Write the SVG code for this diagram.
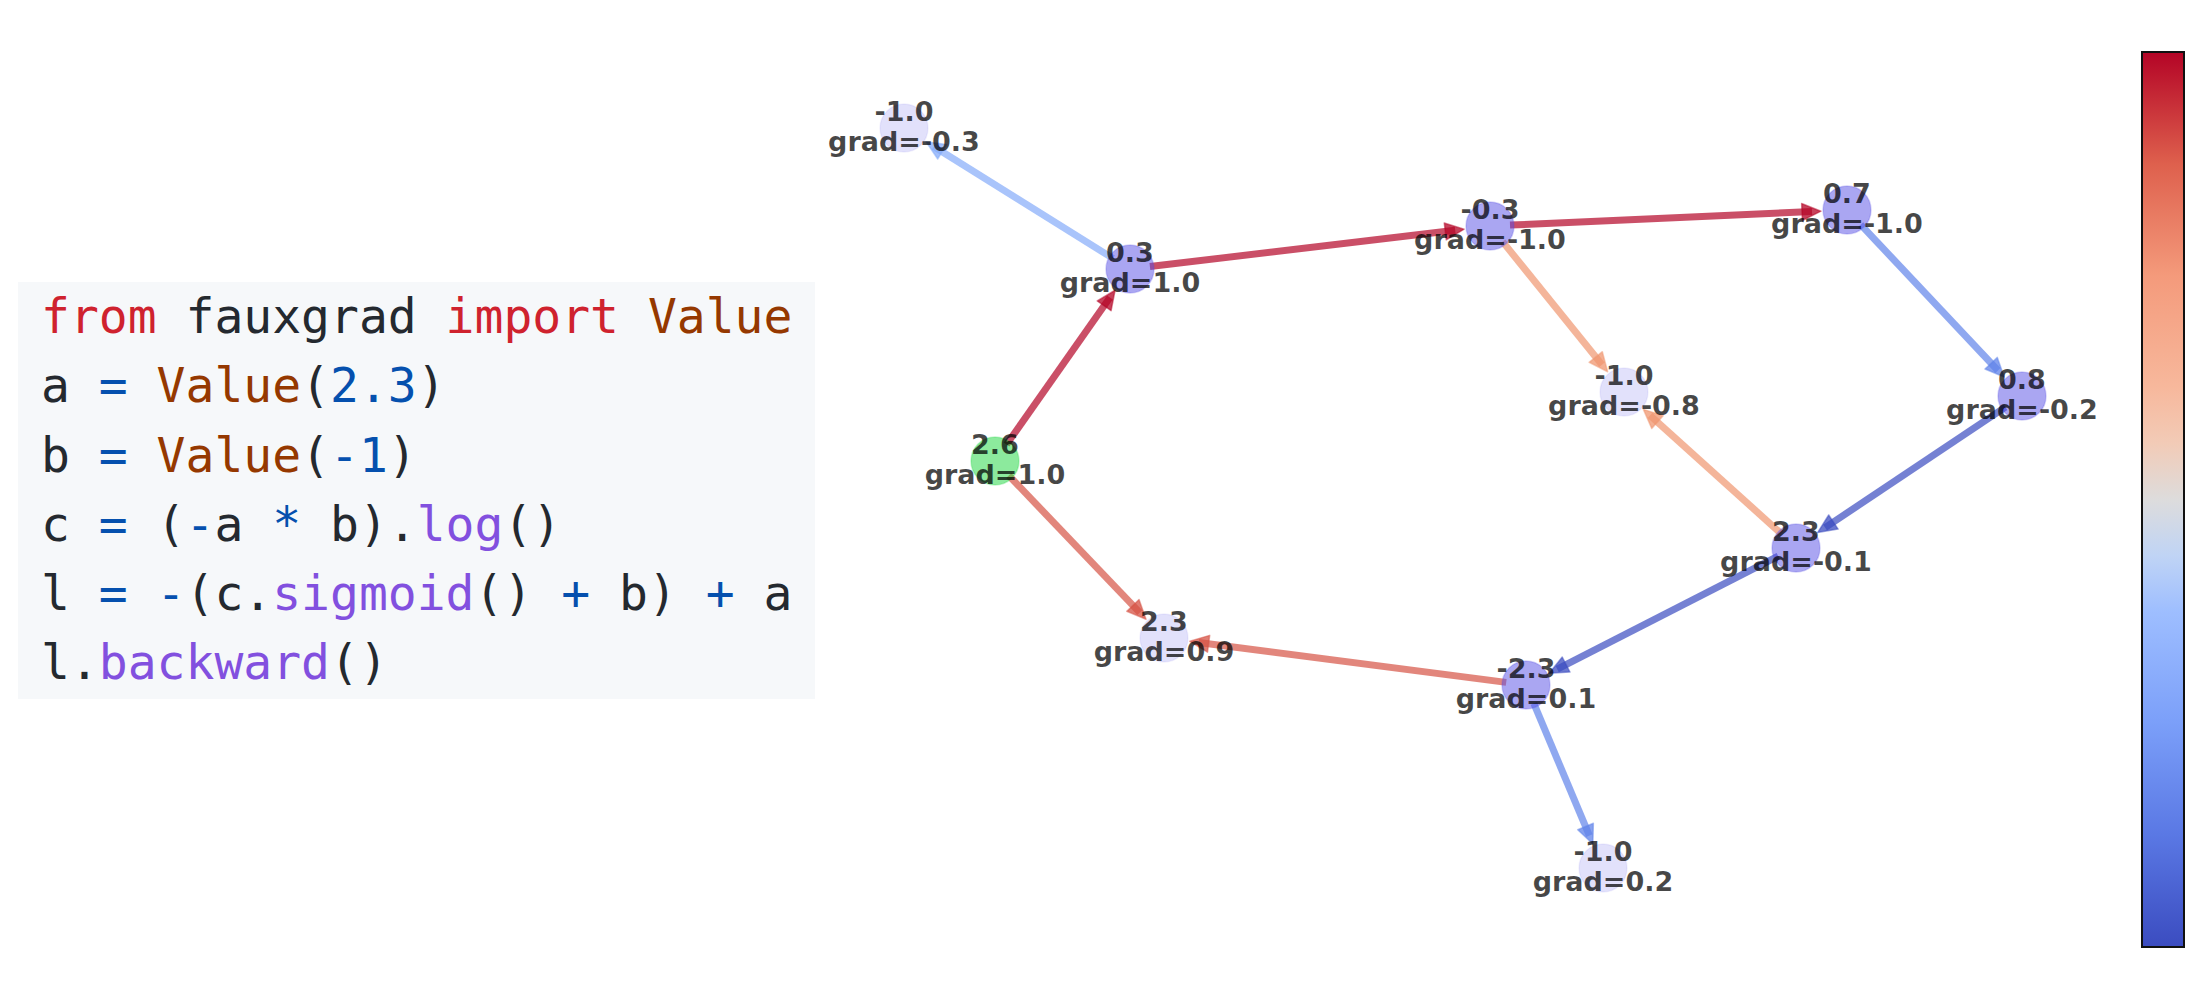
<svg xmlns="http://www.w3.org/2000/svg" width="2206" height="990" viewBox="0 0 2206 990">
<style>
.code{font-family:"DejaVu Sans Mono","Liberation Mono",monospace;font-size:48px;fill:#24292f}
.kw{fill:#cf222e}.cls{fill:#953800}.op{fill:#0550ae}.fn{fill:#8250df}
.lbl{font-family:"DejaVu Sans",sans-serif;font-weight:bold;font-size:27px;fill:#000;fill-opacity:0.72;text-anchor:middle}
.n{fill:#554de5;fill-opacity:0.5;stroke:#554de5;stroke-opacity:0.25;stroke-width:1.5}
.leaf{fill:#554de5;fill-opacity:0.17;stroke:#554de5;stroke-opacity:0.08;stroke-width:1.5}
.root{fill:#19d63c;fill-opacity:0.5;stroke:#19d63c;stroke-opacity:0.25;stroke-width:1.5}
.e{fill:none;stroke-width:7;stroke-opacity:0.7;stroke-linecap:butt}
.red{stroke:#b40426}.sal{stroke:#f0956f}.ora{stroke:#d65244}.lb{stroke:#84abf9}.mb{stroke:#6083ea}.db{stroke:#3b4cc0}
.hd{fill-opacity:0.75;stroke-linejoin:round;stroke-width:1.5;stroke-opacity:0.5}
</style>
<defs>
<linearGradient id="cmap" x1="0" y1="1" x2="0" y2="0">
<stop offset="0" stop-color="#3b4cc0"/>
<stop offset="0.125" stop-color="#5a78e4"/>
<stop offset="0.25" stop-color="#7b9ff9"/>
<stop offset="0.375" stop-color="#9ebeff"/>
<stop offset="0.4375" stop-color="#c0d4f5"/>
<stop offset="0.5" stop-color="#dddcdc"/>
<stop offset="0.5625" stop-color="#f2cbb7"/>
<stop offset="0.625" stop-color="#f7b89c"/>
<stop offset="0.75" stop-color="#f49a7b"/>
<stop offset="0.875" stop-color="#de604d"/>
<stop offset="1" stop-color="#b40426"/>
</linearGradient>
<marker id="m-red" markerUnits="userSpaceOnUse" markerWidth="20" markerHeight="18" refX="10" refY="8.5" orient="auto" overflow="visible"><path class="hd" d="M0,0 L19,8.5 L0,17 z" fill="#b40426" stroke="#b40426"/></marker>
<marker id="m-sal" markerUnits="userSpaceOnUse" markerWidth="20" markerHeight="18" refX="10" refY="8.5" orient="auto" overflow="visible"><path class="hd" d="M0,0 L19,8.5 L0,17 z" fill="#f0956f" stroke="#f0956f"/></marker>
<marker id="m-ora" markerUnits="userSpaceOnUse" markerWidth="20" markerHeight="18" refX="10" refY="8.5" orient="auto" overflow="visible"><path class="hd" d="M0,0 L19,8.5 L0,17 z" fill="#d65244" stroke="#d65244"/></marker>
<marker id="m-lb" markerUnits="userSpaceOnUse" markerWidth="20" markerHeight="18" refX="10" refY="8.5" orient="auto" overflow="visible"><path class="hd" d="M0,0 L19,8.5 L0,17 z" fill="#84abf9" stroke="#84abf9"/></marker>
<marker id="m-mb" markerUnits="userSpaceOnUse" markerWidth="20" markerHeight="18" refX="10" refY="8.5" orient="auto" overflow="visible"><path class="hd" d="M0,0 L19,8.5 L0,17 z" fill="#6083ea" stroke="#6083ea"/></marker>
<marker id="m-db" markerUnits="userSpaceOnUse" markerWidth="20" markerHeight="18" refX="10" refY="8.5" orient="auto" overflow="visible"><path class="hd" d="M0,0 L19,8.5 L0,17 z" fill="#3b4cc0" stroke="#3b4cc0"/></marker>
</defs>
<rect width="2206" height="990" fill="#ffffff"/>
<g id="code">
<rect x="18" y="282" width="797" height="417" fill="#f6f8fa"/>
<text class="code" x="41" y="333" xml:space="preserve"><tspan class="kw">from</tspan> fauxgrad <tspan class="kw">import</tspan> <tspan class="cls">Value</tspan></text>
<text class="code" x="41" y="402" xml:space="preserve">a <tspan class="op">=</tspan> <tspan class="cls">Value</tspan>(<tspan class="op">2.3</tspan>)</text>
<text class="code" x="41" y="472" xml:space="preserve">b <tspan class="op">=</tspan> <tspan class="cls">Value</tspan>(<tspan class="op">-1</tspan>)</text>
<text class="code" x="41" y="541" xml:space="preserve">c <tspan class="op">=</tspan> (<tspan class="op">-</tspan>a <tspan class="op">*</tspan> b).<tspan class="fn">log</tspan>()</text>
<text class="code" x="41" y="610" xml:space="preserve">l <tspan class="op">=</tspan> <tspan class="op">-</tspan>(c.<tspan class="fn">sigmoid</tspan>() <tspan class="op">+</tspan> b) <tspan class="op">+</tspan> a</text>
<text class="code" x="41" y="679" xml:space="preserve">l.<tspan class="fn">backward</tspan>()</text>
</g>
<g id="connectors">
<line class="e lb" x1="1113.0" y1="258.4" x2="933.7" y2="146.5" marker-end="url(#m-lb)"/>
<line class="e red" x1="1149.9" y1="266.6" x2="1455.2" y2="230.2" marker-end="url(#m-red)"/>
<line class="e red" x1="1510.0" y1="225.1" x2="1812.0" y2="211.6" marker-end="url(#m-red)"/>
<line class="e sal" x1="1502.6" y1="241.6" x2="1602.0" y2="364.8" marker-end="url(#m-sal)"/>
<line class="e mb" x1="1860.7" y1="224.6" x2="1998.0" y2="370.5" marker-end="url(#m-mb)"/>
<line class="e db" x1="2005.4" y1="407.1" x2="1825.1" y2="527.6" marker-end="url(#m-db)"/>
<line class="e sal" x1="1781.1" y1="533.6" x2="1650.0" y2="415.4" marker-end="url(#m-sal)"/>
<line class="e red" x1="1006.5" y1="444.6" x2="1109.9" y2="297.6" marker-end="url(#m-red)"/>
<line class="e ora" x1="1008.8" y1="475.5" x2="1139.8" y2="612.7" marker-end="url(#m-ora)"/>
<line class="e db" x1="1778.2" y1="556.1" x2="1557.2" y2="669.1" marker-end="url(#m-db)"/>
<line class="e ora" x1="1506.2" y1="682.4" x2="1198.7" y2="642.5" marker-end="url(#m-ora)"/>
<line class="e mb" x1="1533.8" y1="703.4" x2="1589.4" y2="835.7" marker-end="url(#m-mb)"/>
</g>
<g id="node-a"><circle class="leaf" cx="904" cy="128" r="24"/><text class="lbl" x="904" y="121">-1.0</text><text class="lbl" x="904" y="151">grad=-0.3</text></g>
<g id="node-b"><circle class="n" cx="1130" cy="269" r="24"/><text class="lbl" x="1130" y="262">0.3</text><text class="lbl" x="1130" y="292">grad=1.0</text></g>
<g id="node-c"><circle class="n" cx="1490" cy="226" r="24"/><text class="lbl" x="1490" y="219">-0.3</text><text class="lbl" x="1490" y="249">grad=-1.0</text></g>
<g id="node-d"><circle class="n" cx="1847" cy="210" r="24"/><text class="lbl" x="1847" y="203">0.7</text><text class="lbl" x="1847" y="233">grad=-1.0</text></g>
<g id="node-e"><circle class="leaf" cx="1624" cy="392" r="24"/><text class="lbl" x="1624" y="385">-1.0</text><text class="lbl" x="1624" y="415">grad=-0.8</text></g>
<g id="node-f"><circle class="n" cx="2022" cy="396" r="24"/><text class="lbl" x="2022" y="389">0.8</text><text class="lbl" x="2022" y="419">grad=-0.2</text></g>
<g id="node-g"><circle class="root" cx="995" cy="461" r="24"/><text class="lbl" x="995" y="454">2.6</text><text class="lbl" x="995" y="484">grad=1.0</text></g>
<g id="node-h"><circle class="n" cx="1796" cy="548" r="24"/><text class="lbl" x="1796" y="541">2.3</text><text class="lbl" x="1796" y="571">grad=-0.1</text></g>
<g id="node-i"><circle class="leaf" cx="1164" cy="638" r="24"/><text class="lbl" x="1164" y="631">2.3</text><text class="lbl" x="1164" y="661">grad=0.9</text></g>
<g id="node-j"><circle class="n" cx="1526" cy="685" r="24"/><text class="lbl" x="1526" y="678">-2.3</text><text class="lbl" x="1526" y="708">grad=0.1</text></g>
<g id="node-k"><circle class="leaf" cx="1603" cy="868" r="24"/><text class="lbl" x="1603" y="861">-1.0</text><text class="lbl" x="1603" y="891">grad=0.2</text></g>
<g id="colorbar"><rect x="2142" y="52" width="42" height="895" fill="url(#cmap)" stroke="#111" stroke-width="2"/></g>
</svg>
